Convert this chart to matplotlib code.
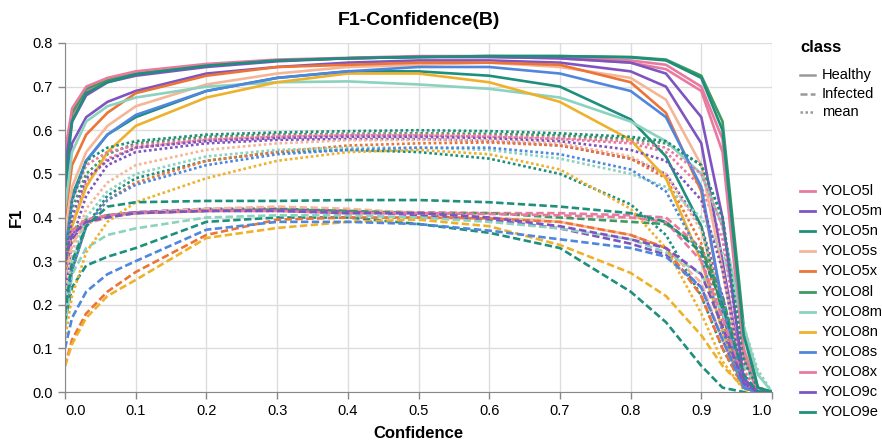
import matplotlib
matplotlib.use("Agg")
import matplotlib.pyplot as plt
from matplotlib.lines import Line2D

plt.rcParams['font.family'] = ['Liberation Sans', 'DejaVu Sans']

conf = [0.0, 0.01, 0.03, 0.06, 0.1, 0.2, 0.3, 0.4, 0.5, 0.6, 0.7, 0.8, 0.85, 0.9, 0.93, 0.96, 0.98, 1.0]

models = ["YOLO5l", "YOLO5m", "YOLO5n", "YOLO5s", "YOLO5x", "YOLO8l",
          "YOLO8m", "YOLO8n", "YOLO8s", "YOLO8x", "YOLO9c", "YOLO9e"]
classes = ["Healthy", "Infected", "mean"]

# F1 per model, class Healthy
healthy = {
    "YOLO5l": [0.50, 0.63, 0.69, 0.715, 0.73, 0.75, 0.76, 0.765, 0.768, 0.768, 0.765, 0.755, 0.74, 0.69, 0.55, 0.08, 0.0, 0.0],
    "YOLO5m": [0.45, 0.57, 0.63, 0.665, 0.69, 0.73, 0.745, 0.755, 0.76, 0.76, 0.755, 0.735, 0.70, 0.57, 0.30, 0.02, 0.0, 0.0],
    "YOLO5n": [0.33, 0.45, 0.53, 0.59, 0.63, 0.69, 0.72, 0.735, 0.735, 0.725, 0.70, 0.625, 0.54, 0.38, 0.18, 0.01, 0.0, 0.0],
    "YOLO5s": [0.35, 0.47, 0.55, 0.61, 0.655, 0.705, 0.73, 0.745, 0.75, 0.755, 0.745, 0.72, 0.67, 0.52, 0.28, 0.02, 0.0, 0.0],
    "YOLO5x": [0.40, 0.52, 0.59, 0.64, 0.685, 0.725, 0.745, 0.75, 0.755, 0.755, 0.75, 0.71, 0.64, 0.46, 0.20, 0.01, 0.0, 0.0],
    "YOLO8l": [0.48, 0.64, 0.695, 0.715, 0.73, 0.75, 0.76, 0.765, 0.768, 0.77, 0.77, 0.768, 0.762, 0.725, 0.62, 0.15, 0.01, 0.0],
    "YOLO8m": [0.42, 0.55, 0.62, 0.655, 0.675, 0.70, 0.71, 0.712, 0.705, 0.695, 0.675, 0.62, 0.575, 0.50, 0.38, 0.15, 0.04, 0.0],
    "YOLO8n": [0.28, 0.38, 0.47, 0.55, 0.61, 0.675, 0.71, 0.73, 0.73, 0.71, 0.665, 0.578, 0.49, 0.30, 0.14, 0.01, 0.0, 0.0],
    "YOLO8s": [0.32, 0.44, 0.53, 0.59, 0.635, 0.69, 0.72, 0.735, 0.745, 0.745, 0.73, 0.69, 0.63, 0.47, 0.20, 0.01, 0.0, 0.0],
    "YOLO8x": [0.55, 0.65, 0.70, 0.72, 0.735, 0.752, 0.762, 0.766, 0.77, 0.77, 0.768, 0.76, 0.75, 0.70, 0.58, 0.10, 0.0, 0.0],
    "YOLO9c": [0.52, 0.62, 0.68, 0.71, 0.725, 0.745, 0.758, 0.765, 0.768, 0.768, 0.765, 0.755, 0.73, 0.63, 0.40, 0.03, 0.0, 0.0],
    "YOLO9e": [0.47, 0.62, 0.685, 0.71, 0.728, 0.748, 0.76, 0.765, 0.768, 0.77, 0.77, 0.767, 0.76, 0.72, 0.60, 0.13, 0.01, 0.0],
}

# F1 per model, class Infected
infected = {
    "YOLO5l": [0.30, 0.36, 0.39, 0.405, 0.412, 0.418, 0.418, 0.415, 0.412, 0.41, 0.41, 0.405, 0.40, 0.33, 0.20, 0.03, 0.0, 0.0],
    "YOLO5m": [0.28, 0.35, 0.39, 0.405, 0.412, 0.42, 0.42, 0.415, 0.405, 0.395, 0.375, 0.34, 0.315, 0.24, 0.12, 0.01, 0.0, 0.0],
    "YOLO5n": [0.16, 0.24, 0.29, 0.31, 0.33, 0.39, 0.40, 0.40, 0.385, 0.365, 0.33, 0.23, 0.16, 0.06, 0.01, 0.0, 0.0, 0.0],
    "YOLO5s": [0.27, 0.34, 0.385, 0.40, 0.41, 0.42, 0.425, 0.42, 0.41, 0.40, 0.39, 0.36, 0.33, 0.25, 0.12, 0.01, 0.0, 0.0],
    "YOLO5x": [0.06, 0.12, 0.18, 0.23, 0.275, 0.36, 0.395, 0.40, 0.40, 0.398, 0.39, 0.36, 0.33, 0.22, 0.10, 0.01, 0.0, 0.0],
    "YOLO8l": [0.30, 0.37, 0.395, 0.405, 0.41, 0.415, 0.418, 0.415, 0.41, 0.41, 0.40, 0.39, 0.385, 0.33, 0.22, 0.03, 0.0, 0.0],
    "YOLO8m": [0.15, 0.27, 0.33, 0.36, 0.375, 0.40, 0.405, 0.405, 0.40, 0.39, 0.375, 0.35, 0.32, 0.27, 0.18, 0.06, 0.01, 0.0],
    "YOLO8n": [0.06, 0.11, 0.17, 0.22, 0.257, 0.353, 0.376, 0.39, 0.395, 0.38, 0.337, 0.273, 0.22, 0.13, 0.06, 0.01, 0.0, 0.0],
    "YOLO8s": [0.10, 0.17, 0.23, 0.27, 0.30, 0.372, 0.39, 0.39, 0.385, 0.37, 0.35, 0.33, 0.31, 0.24, 0.12, 0.01, 0.0, 0.0],
    "YOLO8x": [0.32, 0.37, 0.395, 0.405, 0.41, 0.415, 0.415, 0.41, 0.41, 0.408, 0.405, 0.40, 0.39, 0.30, 0.17, 0.03, 0.0, 0.0],
    "YOLO9c": [0.30, 0.36, 0.39, 0.40, 0.41, 0.415, 0.415, 0.41, 0.41, 0.40, 0.38, 0.35, 0.33, 0.27, 0.15, 0.02, 0.0, 0.0],
    "YOLO9e": [0.18, 0.30, 0.38, 0.425, 0.435, 0.438, 0.438, 0.44, 0.44, 0.435, 0.425, 0.41, 0.39, 0.32, 0.20, 0.04, 0.0, 0.0],
}

# F1 per model, class mean
mean = {
    "YOLO5l": [0.25, 0.38, 0.48, 0.535, 0.56, 0.578, 0.585, 0.588, 0.588, 0.585, 0.58, 0.57, 0.55, 0.47, 0.35, 0.05, 0.0, 0.0],
    "YOLO5m": [0.22, 0.35, 0.45, 0.52, 0.55, 0.57, 0.578, 0.58, 0.58, 0.575, 0.565, 0.535, 0.50, 0.38, 0.22, 0.02, 0.0, 0.0],
    "YOLO5n": [0.15, 0.28, 0.38, 0.45, 0.49, 0.53, 0.55, 0.555, 0.55, 0.535, 0.50, 0.43, 0.36, 0.22, 0.10, 0.01, 0.0, 0.0],
    "YOLO5s": [0.20, 0.32, 0.42, 0.48, 0.52, 0.555, 0.57, 0.577, 0.578, 0.577, 0.57, 0.54, 0.50, 0.37, 0.20, 0.02, 0.0, 0.0],
    "YOLO5x": [0.18, 0.28, 0.38, 0.44, 0.48, 0.53, 0.55, 0.565, 0.57, 0.572, 0.565, 0.535, 0.49, 0.34, 0.16, 0.01, 0.0, 0.0],
    "YOLO8l": [0.28, 0.42, 0.50, 0.545, 0.57, 0.585, 0.59, 0.592, 0.593, 0.592, 0.588, 0.58, 0.57, 0.52, 0.40, 0.08, 0.01, 0.0],
    "YOLO8m": [0.20, 0.30, 0.40, 0.46, 0.50, 0.54, 0.555, 0.56, 0.56, 0.555, 0.535, 0.50, 0.47, 0.40, 0.32, 0.15, 0.05, 0.0],
    "YOLO8n": [0.12, 0.22, 0.32, 0.39, 0.435, 0.49, 0.53, 0.55, 0.555, 0.545, 0.51, 0.42, 0.33, 0.18, 0.07, 0.005, 0.0, 0.0],
    "YOLO8s": [0.18, 0.28, 0.38, 0.44, 0.475, 0.52, 0.545, 0.555, 0.56, 0.56, 0.545, 0.51, 0.46, 0.31, 0.14, 0.01, 0.0, 0.0],
    "YOLO8x": [0.30, 0.44, 0.52, 0.55, 0.565, 0.58, 0.587, 0.59, 0.59, 0.588, 0.582, 0.575, 0.56, 0.50, 0.38, 0.05, 0.0, 0.0],
    "YOLO9c": [0.28, 0.40, 0.49, 0.53, 0.56, 0.575, 0.582, 0.585, 0.585, 0.582, 0.575, 0.555, 0.53, 0.44, 0.28, 0.02, 0.0, 0.0],
    "YOLO9e": [0.30, 0.44, 0.53, 0.56, 0.575, 0.59, 0.595, 0.598, 0.60, 0.598, 0.593, 0.585, 0.575, 0.52, 0.40, 0.07, 0.01, 0.0],
}

palette = ['#e97a9f', '#7e55c0', '#1d8f7c', '#f4b697', '#ec7437',
           '#3e9a5f', '#8bd2bf', '#eeb12c', '#4f86de']
colors = {m: palette[i % len(palette)] for i, m in enumerate(models)}
dashes = {"Healthy": None, "Infected": (2.8, 1.3), "mean": (1.0, 1.0)}
data = {"Healthy": healthy, "Infected": infected, "mean": mean}

W, H = 882, 443
fig = plt.figure(figsize=(W / 100, H / 100), dpi=100)
ax = fig.add_axes([65 / W, 1 - 392 / H, (772 - 65) / W, (392 - 43) / H])

for m in models:
    for c in classes:
        ln, = ax.plot(conf, data[c][m], color=colors[m], lw=1.9,
                      solid_capstyle='butt', dash_capstyle='butt',
                      solid_joinstyle='round')
        if dashes[c]:
            ln.set_dashes(dashes[c])

ax.set_xlim(0, 1)
ax.set_ylim(0, 0.8)
xt = [i / 10 for i in range(11)]
yt = [i / 10 for i in range(9)]
ax.set_xticks(xt)
ax.set_yticks(yt)
ax.set_xticklabels([f"{v:.1f}" for v in xt], fontsize=10.5)
ax.set_yticklabels([f"{v:.1f}" for v in yt], fontsize=10.5)
xl = ax.get_xticklabels()
xl[0].set_ha('left')
xl[-1].set_ha('right')
ax.tick_params(colors='#888', labelcolor='black', length=5, width=1)
ax.grid(True, color='#ddd', lw=1)
ax.set_axisbelow(True)
for s in ['top', 'right']:
    ax.spines[s].set_visible(False)
for s in ['left', 'bottom']:
    ax.spines[s].set_color('#888')
ax.set_xlabel("Confidence", fontsize=12, fontweight='bold', labelpad=6)
ax.set_ylabel("F1", fontsize=12, fontweight='bold', labelpad=6)
ax.set_title("F1-Confidence(B)", fontsize=14, fontweight='bold', pad=13)

# legends, placed by hand in figure pixels
def fx(px):
    return px / W

def fy(py):
    return 1 - py / H

fig.text(fx(800), fy(48), "class", fontsize=12, fontweight='bold', va='center')
for i, c in enumerate(classes):
    y = 75 + i * 18.5
    ln = Line2D([fx(800), fx(815)], [fy(y), fy(y)], color='#999', lw=1.8,
                transform=fig.transFigure)
    if dashes[c]:
        ln.set_dashes(dashes[c])
    fig.add_artist(ln)
    fig.text(fx(822), fy(y), c, fontsize=10.5, va='center')

for i, m in enumerate(models):
    y = 191 + i * 20.1
    fig.add_artist(Line2D([fx(800), fx(815)], [fy(y), fy(y)], color=colors[m],
                          lw=2, transform=fig.transFigure))
    fig.text(fx(822), fy(y), m, fontsize=10.5, va='center')

fig.savefig("out.png", dpi=100)
